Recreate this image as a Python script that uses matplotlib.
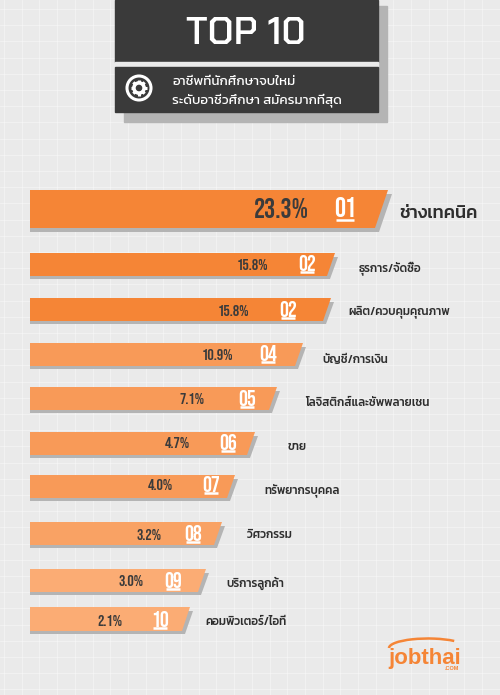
import matplotlib
matplotlib.use("Agg")
import logging
import matplotlib.pyplot as plt
import numpy as np
from matplotlib.patches import Arc, Circle, Polygon, Rectangle

logging.getLogger("matplotlib.font_manager").setLevel(logging.ERROR)

WIDTH = 500
HEIGHT = 695
BG_COLOR = "#EAEAEA"
DARK = "#3A3A3A"
SHADOW = "#B4B4B4"
INK = "#3B3B3B"
ORANGE = "#F58536"
THAI_FONT = ["Kanit", "DejaVu Sans"]
NUM_FONT = ["Bebas Neue", "Oswald", "Fira Sans Extra Condensed", "DejaVu Sans"]

categories = [
    "ช่างเทคนิค", "ธุรการ/จัดซื้อ", "ผลิต/ควบคุมคุณภาพ", "บัญชี/การเงิน",
    "โลจิสติกส์และซัพพลายเชน", "ขาย", "ทรัพยากรบุคคล", "วิศวกรรม",
    "บริการลูกค้า", "คอมพิวเตอร์/ไอที",
]
percents = [23.3, 15.8, 15.8, 10.9, 7.1, 4.7, 4.0, 3.2, 3.0, 2.1]
ranks = ["01", "02", "02", "04", "05", "06", "07", "08", "09", "10"]

# bar lengths in the original are not proportional to the values, read in px
bar_right = [388, 335, 331, 303, 277, 255, 235, 222, 206, 190]
bar_top = [190, 253, 298, 343, 387, 432, 475, 522, 569, 607]
bar_bottom = [228, 276, 321, 366, 410, 455, 498, 545, 592, 631]
bar_colors = [ORANGE, ORANGE, ORANGE, "#F89A58", "#F89A58",
              "#F89A58", "#F89A58", "#F9A264", "#FBAC74", "#FBAC74"]

pct_x = [281, 252, 233, 217, 192, 177, 160, 149, 131, 110]
pct_y = [208, 264, 310, 354, 399, 443, 485, 534, 581, 620]
rank_x = [345, 307, 288, 268, 247, 228, 211, 193, 173, 160]
rank_y = [207, 263, 309, 353, 398, 442, 484, 533, 580, 619]
label_x = [399, 359, 348, 322, 305, 288, 264, 247, 226, 205]
label_y = [214, 268, 312, 359, 403, 447, 490, 535, 583, 622]


def draw_background(ax):
    ax.add_patch(Rectangle((0, 0), WIDTH, HEIGHT, color=BG_COLOR, zorder=0))
    for x in np.arange(4.0, WIDTH, 17.7):
        ax.plot([x, x], [0, HEIGHT], color="white", lw=0.6, alpha=0.4, zorder=1)
    for y in np.arange(9.0, HEIGHT, 16.2):
        ax.plot([0, WIDTH], [y, y], color="white", lw=0.6, alpha=0.4, zorder=1)


def draw_header(ax):
    ax.add_patch(Rectangle((124, 6), 263, 116, color=SHADOW, zorder=2))
    ax.add_patch(Rectangle((115, 0), 263, 62, color=DARK, zorder=3))
    ax.add_patch(Rectangle((115, 62), 263, 5, color=BG_COLOR, zorder=3))
    ax.add_patch(Rectangle((115, 67), 263, 45, color=DARK, zorder=3))
    ax.text(245.5, 34, "TOP 10", color="white", fontsize=27, fontweight="semibold",
            family=["Chakra Petch", "DejaVu Sans"], ha="center", va="center", zorder=4)
    ax.text(172.5, 82, "อาชีพที่นักศึกษาจบใหม่", color="white", fontsize=9.6,
            family=THAI_FONT, va="center", zorder=4)
    ax.text(172.5, 100, "ระดับอาชีวศึกษา สมัครมากที่สุด", color="white", fontsize=9.6,
            family=THAI_FONT, va="center", zorder=4)

    # gear icon
    cx, cy = 139, 88
    ax.add_patch(Circle((cx, cy), 12, fill=False, ec="white", lw=2.2, zorder=4))
    ax.add_patch(Circle((cx, cy), 6.2, color="white", zorder=4))
    for angle in np.arange(0, 360, 45):
        ax.plot([cx, cx + 8 * np.cos(np.radians(angle))],
                [cy, cy + 8 * np.sin(np.radians(angle))],
                color="white", lw=2.2, solid_capstyle="butt", zorder=4)
    ax.add_patch(Circle((cx, cy), 2.6, color=DARK, zorder=5))


def draw_bars(ax):
    for i, right in enumerate(bar_right):
        top = bar_top[i]
        bottom = bar_bottom[i]
        big = i == 0
        slant = 13 if big else 8
        drop = 4 if big else 3
        shift = 4 if big else 3
        ax.add_patch(Polygon(
            [(30, top + 6), (right + shift, top + 4), (right + shift - slant, bottom + drop),
             (30, bottom + drop)], closed=True, color=SHADOW, lw=0, zorder=2))
        ax.add_patch(Polygon(
            [(30, top), (right, top), (right - slant, bottom), (30, bottom)],
            closed=True, color=bar_colors[i], lw=0, zorder=3))

        ax.text(pct_x[i], pct_y[i], f"{percents[i]}%", color=INK,
                fontsize=20 if big else 11.5, fontweight="semibold", family=NUM_FONT,
                ha="center", va="center", zorder=4)
        ax.text(rank_x[i], rank_y[i], ranks[i], color="white",
                fontsize=20 if big else 16, fontweight="semibold", family=NUM_FONT,
                ha="center", va="center", zorder=4)
        half = 9 if big else 7
        ul_y = rank_y[i] + (13 if big else 9)
        ax.plot([rank_x[i] - half, rank_x[i] + half], [ul_y, ul_y], color="white",
                lw=1.8, solid_capstyle="butt", zorder=4)
        ax.text(label_x[i], label_y[i], categories[i], color="#2E2E2E",
                fontsize=13 if big else 8.4, fontweight="medium", family=THAI_FONT,
                va="center", zorder=4)


def draw_logo(ax):
    ax.add_patch(Arc((428, 648), 78, 19, theta1=180, theta2=345, color=ORANGE,
                     lw=1.8, zorder=4))
    ax.text(388, 664, "jobthai", color=ORANGE, fontsize=16, fontweight="bold",
            family=["Liberation Sans", "DejaVu Sans"], va="baseline", zorder=5)
    ax.text(459, 668, ".COM", color=ORANGE, fontsize=4, fontweight="bold",
            family=["Liberation Sans", "DejaVu Sans"], ha="right", va="center", zorder=5)


def main():
    fig = plt.figure(figsize=(WIDTH / 100, HEIGHT / 100), dpi=100)
    ax = fig.add_axes([0, 0, 1, 1])
    ax.set_xlim(0, WIDTH)
    ax.set_ylim(HEIGHT, 0)
    ax.axis("off")

    draw_background(ax)
    draw_header(ax)
    draw_bars(ax)
    draw_logo(ax)

    fig.savefig("out.png", dpi=100)
    plt.close(fig)


if __name__ == "__main__":
    main()
